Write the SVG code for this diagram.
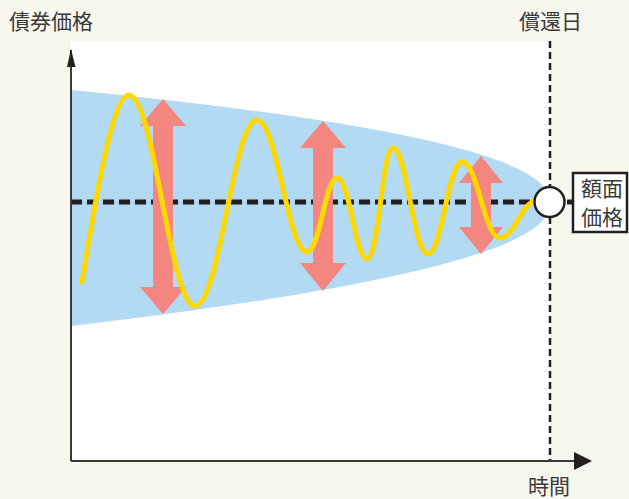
<svg xmlns="http://www.w3.org/2000/svg" width="629" height="499" viewBox="0 0 629 499">
<style>
text{font-family:"Noto Sans CJK JP","Noto Sans CJK SC",sans-serif;font-size:21px;fill:#3a3a3a}
.arrow{fill:#f3877f}
.axis{stroke:#3a3a3a;stroke-width:2;fill:none}
</style>
<rect width="629" height="499" fill="#f8f7ee"/>
<rect x="71" y="41" width="478" height="420" fill="#ffffff"/>
<g id="band"><path d="M71,90 Q560,138 549,203 Q560,268 71,326 Z" fill="#b2daf2"/></g>
<g id="connectors">
<line x1="71" y1="202" x2="573" y2="202" stroke="#231f20" stroke-width="5" stroke-dasharray="11 5"/>
<line x1="550" y1="41" x2="550" y2="461" stroke="#231f20" stroke-width="2.5" stroke-dasharray="7 4"/>
<path d="M71,461V50" class="axis"/>
<path d="M67,67L71,49L75.5,67Z" fill="#231f20"/>
<path d="M71,461H575" class="axis"/>
<path d="M574,452L592,461L574,470Z" fill="#231f20"/>
</g>
<g id="arrows">
<path class="arrow" d="M163,99L186,126H173V287H186L163,314L140,287H153V126H140Z"/>
<path class="arrow" d="M323,121L346,148H333V263H346L323,291L300,263H313V148H300Z"/>
<path class="arrow" d="M481,156L503,183H491V227H503L481,254L459,227H471V183H459Z"/>
</g>
<g id="wave"><path d="M82,282 C92,223 111,95 129,95 C154,95 170,306 195,306 C220,306 233,120 257,120 C277,120 288,252 307,252 C320,252 325,178 337,178 C350,178 355,259 367,259 C379,259 382,148 393,148 C407,148 413,254 428,254 C442,254 448,162 462,162 C478,162 484,238 500,238 C514,238 522,203 535,201" fill="none" stroke="#ffd800" stroke-width="5" stroke-linecap="round"/></g>
<g id="face-node">
<circle cx="549.5" cy="202" r="15" fill="#ffffff" stroke="#231f20" stroke-width="2.5"/>
<rect x="573" y="173" width="54" height="59" fill="#ffffff" stroke="#231f20" stroke-width="2.5"/>
<text x="581" y="196">額面</text>
<text x="581" y="225">価格</text>
</g>
<g id="labels">
<text x="9" y="29">債券価格</text>
<text x="519" y="29">償還日</text>
<text x="528" y="494">時間</text>
</g>
</svg>
